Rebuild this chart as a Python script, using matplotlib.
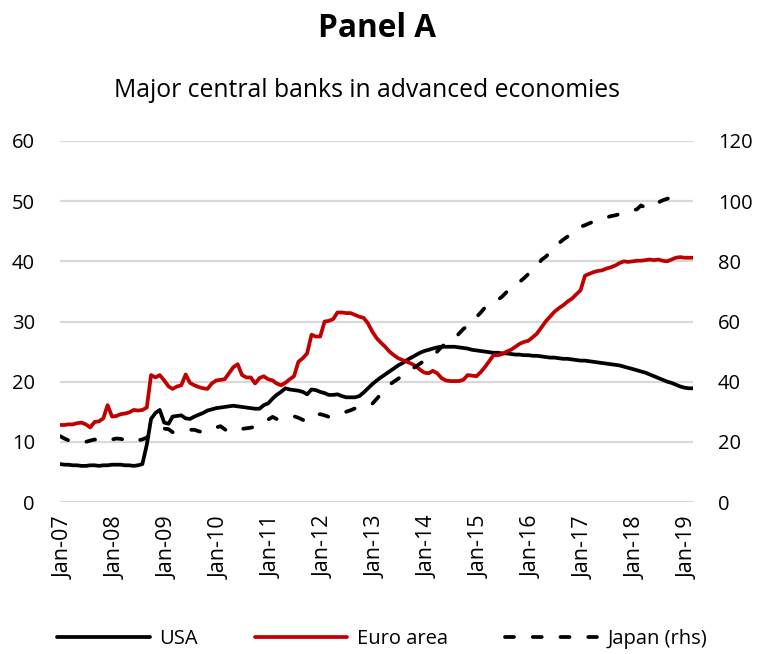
import matplotlib
matplotlib.use("Agg")
import matplotlib.pyplot as plt
import matplotlib.transforms as mtransforms
import pandas as pd
import numpy as np

# ---------------- data ----------------
start_month = "2007-01-01"

usa = [6.3, 6.2, 6.2, 6.1, 6.1, 6.0, 6.0, 6.1, 6.1, 6.0, 6.1, 6.1,
       6.2, 6.2, 6.2, 6.1, 6.1, 6.0, 6.1, 6.3, 9.5, 13.8, 14.8, 15.3,
       13.2, 13.0, 14.2, 14.3, 14.4, 13.9, 13.8, 14.2, 14.5, 14.8, 15.2, 15.4,
       15.6, 15.7, 15.8, 15.9, 16.0, 15.9, 15.8, 15.7, 15.6, 15.5, 15.5, 16.1,
       16.4, 17.2, 17.8, 18.3, 18.9, 18.7, 18.6, 18.5, 18.3, 17.9, 18.7, 18.6,
       18.3, 18.1, 17.8, 17.8, 17.9, 17.6, 17.4, 17.4, 17.4, 17.6, 18.2, 18.9,
       19.6, 20.2, 20.7, 21.2, 21.7, 22.2, 22.7, 23.1, 23.6, 24.0, 24.4, 24.8,
       25.1, 25.3, 25.5, 25.7, 25.8, 25.8, 25.8, 25.8, 25.7, 25.6, 25.5, 25.3,
       25.2, 25.1, 25.0, 24.9, 24.8, 24.8, 24.7, 24.7, 24.6, 24.5, 24.5, 24.4,
       24.4, 24.3, 24.3, 24.2, 24.1, 24.0, 24.0, 23.9, 23.8, 23.8, 23.7, 23.6,
       23.5, 23.5, 23.4, 23.3, 23.2, 23.1, 23.0, 22.9, 22.8, 22.7, 22.5, 22.3,
       22.1, 21.9, 21.7, 21.5, 21.2, 20.9, 20.6, 20.3, 20.0, 19.8, 19.5, 19.2,
       19.0, 18.9, 18.9]

euro = [12.8, 12.8, 12.9, 12.9, 13.1, 13.2, 12.9, 12.4, 13.3, 13.4, 13.9, 16.1,
        14.2, 14.3, 14.6, 14.7, 14.9, 15.3, 15.2, 15.3, 15.7, 21.1, 20.7, 21.1,
        20.2, 19.2, 18.8, 19.2, 19.4, 21.2, 19.8, 19.4, 19.1, 18.9, 18.8, 19.7,
        20.2, 20.3, 20.4, 21.4, 22.4, 22.9, 21.1, 20.7, 20.7, 19.7, 20.6, 20.9,
        20.4, 20.2, 19.7, 19.4, 19.8, 20.4, 20.9, 23.3, 23.9, 24.7, 27.8, 27.5,
        27.5, 30.0, 30.1, 30.4, 31.5, 31.5, 31.4, 31.4, 31.1, 30.8, 30.6, 29.7,
        28.3, 27.2, 26.5, 25.8, 25.0, 24.4, 23.9, 23.6, 23.3, 23.0, 22.6, 22.0,
        21.5, 21.4, 21.8, 21.4, 20.6, 20.2, 20.1, 20.1, 20.1, 20.3, 21.1, 21.0,
        20.9, 21.6, 22.4, 23.4, 24.4, 24.4, 24.6, 25.0, 25.3, 25.8, 26.3, 26.6,
        26.8, 27.4, 28.0, 29.0, 30.0, 30.8, 31.6, 32.2, 32.7, 33.3, 33.8, 34.5,
        35.2, 37.6, 37.9, 38.2, 38.4, 38.5, 38.8, 39.0, 39.3, 39.7, 40.0, 39.9,
        40.0, 40.1, 40.1, 40.2, 40.3, 40.2, 40.3, 40.1, 40.0, 40.3, 40.6, 40.7,
        40.6, 40.6, 40.6]

japan = [21.9, 21.1, 20.5, 20.0, 19.8, 19.8, 20.0, 20.4, 20.8, 20.2, 20.2, 20.4,
         20.8, 21.1, 21.0, 20.6, 20.0, 20.2, 20.5, 20.8, 21.4, 22.6, 23.8, 24.2,
         24.4, 24.2, 23.2, 23.3, 23.6, 23.8, 24.0, 24.0, 23.5, 23.2, 23.6, 24.2,
         24.8, 25.2, 24.2, 23.3, 23.6, 24.0, 24.3, 24.5, 24.7, 25.0, 25.6, 26.4,
         27.4, 28.3, 27.6, 27.4, 27.8, 28.3, 28.5, 28.0, 27.3, 26.8, 27.8, 28.8,
         29.2, 28.8, 28.3, 28.6, 29.0, 29.5, 30.0, 30.5, 31.1, 31.7, 32.0, 32.3,
         32.7, 34.3, 35.8, 37.5, 39.0, 40.0, 41.0, 42.0, 42.8, 44.0, 45.0, 46.0,
         47.0, 47.8, 48.5, 50.0, 51.5, 52.8, 53.6, 54.4, 56.0, 57.5, 58.6, 60.2,
         61.5, 63.0, 64.6, 65.5, 66.3, 67.2, 68.3, 69.8, 71.2, 72.2, 73.2, 74.4,
         75.8, 77.2, 78.2, 80.5, 81.5, 83.0, 84.8, 86.0, 87.2, 88.2, 89.4, 90.5,
         91.5, 92.0, 92.6, 93.2, 93.7, 94.2, 94.6, 95.0, 95.3, 95.7, 96.1, 96.5,
         96.9, 97.3, 98.6, 97.8, 97.8, 98.8, 99.6, 100.3, 100.8, 101.4, 100.8, 101.0]

tick_years = list(range(2007, 2020))
tick_labels = ["Jan-%02d" % (y % 100) for y in tick_years]
left_ticks = [0, 10, 20, 30, 40, 50, 60]
right_ticks = [0, 20, 40, 60, 80, 100, 120]
series_names = ["USA", "Euro area", "Japan (rhs)"]

# ---------------- figure ----------------
plt.rcParams['font.family'] = ['Open Sans', 'DejaVu Sans']
W, H = 759, 654
fig = plt.figure(figsize=(W / 100, H / 100), dpi=100)

ax = fig.add_axes([60 / W, 1 - 502 / H, 633 / W, 361 / H])
ax2 = ax.twinx()

dates_usa = pd.date_range(start_month, periods=len(usa), freq="MS")
dates_euro = pd.date_range(start_month, periods=len(euro), freq="MS")
dates_japan = pd.date_range(start_month, periods=len(japan), freq="MS")

lw = 2.7
l1, = ax.plot(dates_usa, usa, color="black", lw=lw, solid_joinstyle="round",
              solid_capstyle="round", label=series_names[0], zorder=3)
l2, = ax.plot(dates_euro, euro, color="#C00000", lw=lw, solid_joinstyle="round",
              solid_capstyle="round", label=series_names[1], zorder=3)
l3, = ax2.plot(dates_japan, japan, color="black", lw=lw, linestyle=(0, (2.4, 5.0)),
               dash_capstyle="round", dash_joinstyle="round",
               label=series_names[2], zorder=3)

ax.set_xlim(dates_usa[0], dates_usa[-1])
ax2.set_xlim(dates_usa[0], dates_usa[-1])
ax.set_ylim(0, 60)
ax2.set_ylim(0, 120)

ax.set_yticks(left_ticks)
ax2.set_yticks(right_ticks)
ax.set_xticks(pd.to_datetime(["%d-01-01" % y for y in tick_years]))
ax.set_xticklabels(tick_labels, rotation=90)

fs = 14.5
ax.tick_params(axis="y", length=0, pad=18, labelsize=fs, labelcolor="black")
ax2.tick_params(axis="y", length=0, pad=18, labelsize=fs, labelcolor="black")
ax.tick_params(axis="x", length=0, pad=10, labelsize=15.5, labelcolor="black")

# Excel places the rotated labels a few pixels right of the tick position
shift = mtransforms.ScaledTranslation(4 / 100, 0, fig.dpi_scale_trans)
for lab in ax.get_xticklabels():
    lab.set_transform(lab.get_transform() + shift)

for a in (ax, ax2):
    for s in a.spines.values():
        s.set_visible(False)
    a.set_facecolor("none")

ax.yaxis.grid(True, color="#D9D9D9", lw=1.6)
ax.set_axisbelow(True)
ax.xaxis.grid(False)
ax2.grid(False)

# titles
t1 = fig.text(377 / W, 1 - 37 / H, "Panel A", ha="center", va="baseline",
              fontsize=23, fontweight="bold")
t2 = fig.text(366.5 / W, 1 - 97 / H, "Major central banks in advanced economies",
              ha="center", va="baseline", fontsize=17)
fig.canvas.draw()
r = fig.canvas.get_renderer()
for t, target in ((t1, 118), (t2, 507)):
    w = t.get_window_extent(r).width
    t.set_fontsize(t.get_fontsize() * target / w)

leg = fig.legend([l1, l2, l3], series_names, loc="center",
                 bbox_to_anchor=(382 / W, 1 - 639 / H), ncol=3, frameon=False,
                 fontsize=fs, handlelength=4.6, handletextpad=0.5,
                 columnspacing=2.8, borderaxespad=0, borderpad=0)

fig.savefig("out.png", dpi=100)
